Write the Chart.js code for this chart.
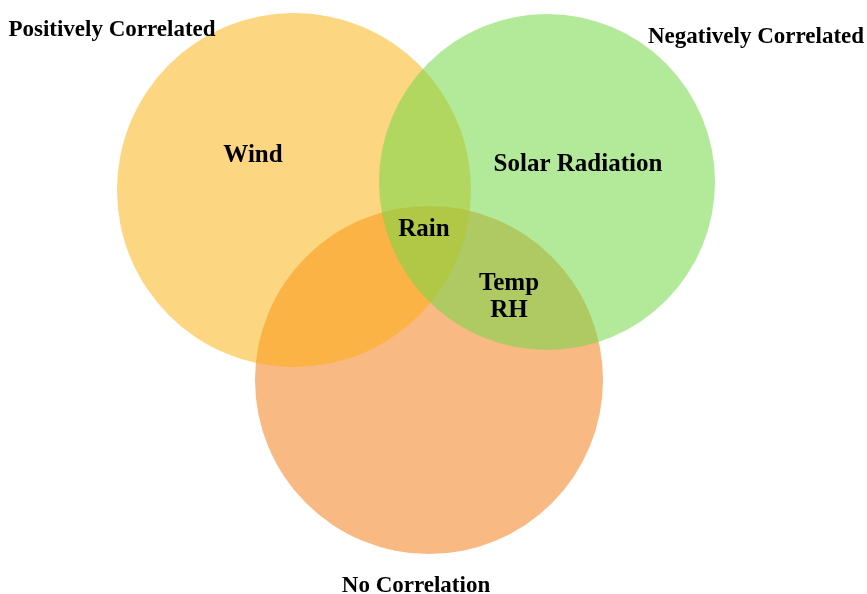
<!DOCTYPE html>
<html>
<head>
<meta charset="utf-8">
<script src="https://cdn.jsdelivr.net/npm/chart.js@4/dist/chart.umd.min.js"></script>
<style>
html,body{margin:0;padding:0;background:#fff;}
#c{display:block;}
</style>
</head>
<body>
<canvas id="c" width="867" height="594"></canvas>
<script>
// Sets (circles): centre and radius in chart units
const setNames   = ['Positively Correlated', 'Negatively Correlated', 'No Correlation'];
const setCenterX = [294, 547, 429];
const setCenterY = [190, 182, 380];
const setRadius  = [177, 168, 174];
const setColors  = ['rgba(251,173,5,0.5)', 'rgba(115,217,71,0.55)', 'rgba(248,185,131,1)'];
const setDrawOrder = [2, 1, 3]; // lower = on top

// Set title labels
const titleX = [112, 756, 416];
const titleY = [30, 37, 586];

// Region labels (variables)
const regionLabels = ['Wind', 'Solar Radiation', 'Rain', 'Temp', 'RH'];
const regionX = [253, 578, 424, 509, 509];
const regionY = [156, 165, 230, 284, 311];

const TITLE_FONT  = 'bold 23px "Liberation Serif", "Times New Roman", serif';
const REGION_FONT = 'bold 25px "Liberation Serif", "Times New Roman", serif';

const radiusPx = (ctx) => {
  const xs = ctx.chart.scales.x;
  if (!xs || !ctx.raw) return 0;
  return Math.abs(xs.getPixelForValue(ctx.raw.r) - xs.getPixelForValue(0));
};

const datasets = setNames.map((n, i) => ({
  label: n,
  data: [{x: setCenterX[i], y: setCenterY[i], r: setRadius[i]}],
  backgroundColor: setColors[i],
  borderWidth: 0,
  order: setDrawOrder[i],
  pointRadius: radiusPx,
  pointHoverRadius: radiusPx,
  pointBorderWidth: 0,
  showLine: false
}));

const labelPlugin = {
  id: 'vennLabels',
  afterDatasetsDraw(chart) {
    const {ctx, scales: {x, y}} = chart;
    ctx.save();
    ctx.fillStyle = '#000';
    ctx.textAlign = 'center';
    ctx.textBaseline = 'middle';
    ctx.font = TITLE_FONT;
    setNames.forEach((t, i) => ctx.fillText(t, x.getPixelForValue(titleX[i]), y.getPixelForValue(titleY[i])));
    ctx.font = REGION_FONT;
    regionLabels.forEach((t, i) => ctx.fillText(t, x.getPixelForValue(regionX[i]), y.getPixelForValue(regionY[i])));
    ctx.restore();
  }
};

new Chart(document.getElementById('c'), {
  type: 'scatter',
  data: { datasets },
  options: {
    responsive: false,
    animation: false,
    events: [],
    layout: { padding: 0 },
    plugins: { legend: { display: false }, tooltip: { enabled: false } },
    scales: {
      x: { type: 'linear', min: 0, max: 867, display: false },
      y: { type: 'linear', min: 0, max: 594, reverse: true, display: false }
    },
    elements: { point: { borderWidth: 0 } }
  },
  plugins: [labelPlugin]
});
</script>
</body>
</html>
